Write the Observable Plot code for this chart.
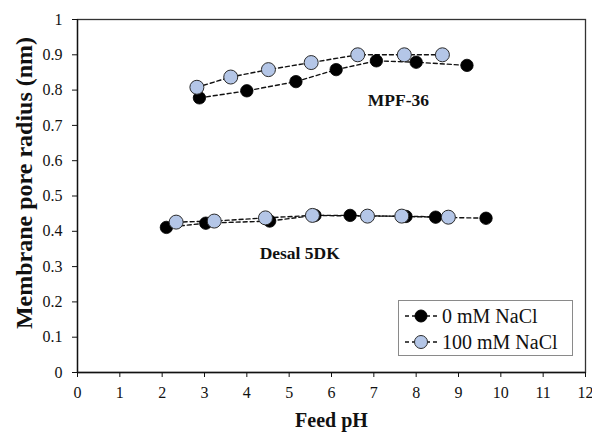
<!DOCTYPE html>
<html>
<head>
<meta charset="utf-8">
<script src="https://cdn.jsdelivr.net/npm/d3@7"></script>
<script src="https://cdn.jsdelivr.net/npm/@observablehq/plot@0.6"></script>
<style>
  html, body { margin: 0; padding: 0; background: #fff; }
  #wrap { position: relative; width: 592px; height: 433px; font-family: "Liberation Serif", Tinos, "Times New Roman", Times, "DejaVu Serif", serif; }
  #wrap svg { overflow: visible; }
  #wrap svg text { font-family: "Liberation Serif", Tinos, "Times New Roman", Times, "DejaVu Serif", serif !important; }
  #legend { position: absolute; left: 398px; top: 300px; width: 175px; height: 56px; border: 1px solid #8a8a8a; background: #fff; box-sizing: border-box; }
  .row { position: absolute; left: 0; height: 26px; display: flex; align-items: center; font-size: 20px; color: #111; }
  .row svg { margin-left: 5px; margin-right: 4px; }
</style>
</head>
<body>
<div id="wrap"></div>
<script>
// ---- data ----
const xTicks = [0,1,2,3,4,5,6,7,8,9,10,11,12];
const yTicks = [0,0.1,0.2,0.3,0.4,0.5,0.6,0.7,0.8,0.9,1];
const seriesNames = ["0 mM NaCl", "100 mM NaCl"];
const membranes = ["MPF-36", "Desal 5DK"];

const mpf_pH_0   = [2.88, 4.0, 5.16, 6.11, 7.06, 8.0, 9.2];
const mpf_r_0    = [0.778, 0.798, 0.824, 0.858, 0.883, 0.879, 0.870];
const mpf_pH_100 = [2.82, 3.62, 4.51, 5.52, 6.62, 7.72, 8.62];
const mpf_r_100  = [0.808, 0.837, 0.858, 0.878, 0.900, 0.900, 0.900];

const desal_pH_0   = [2.1, 3.03, 4.54, 5.61, 6.44, 7.76, 8.46, 9.65];
const desal_r_0    = [0.411, 0.423, 0.429, 0.445, 0.445, 0.442, 0.440, 0.437];
const desal_pH_100 = [2.33, 3.23, 4.44, 5.55, 6.85, 7.66, 8.76];
const desal_r_100  = [0.426, 0.429, 0.438, 0.445, 0.443, 0.443, 0.440];

const labelText = ["MPF-36", "Desal 5DK"];
const labelPH   = [7.58, 5.25];
const labelR    = [0.77, 0.337];

// ---- build table ----
function rows(membrane, series, xs, ys) {
  return xs.map((x, i) => ({membrane, series, key: membrane + "|" + series, pH: x, r: ys[i]}));
}
const data = [
  ...rows(membranes[0], seriesNames[0], mpf_pH_0, mpf_r_0),
  ...rows(membranes[0], seriesNames[1], mpf_pH_100, mpf_r_100),
  ...rows(membranes[1], seriesNames[0], desal_pH_0, desal_r_0),
  ...rows(membranes[1], seriesNames[1], desal_pH_100, desal_r_100)
];
const d0 = data.filter(d => d.series === seriesNames[0]);
const d100 = data.filter(d => d.series === seriesNames[1]);
const labels = labelText.map((t, i) => ({t, pH: labelPH[i], r: labelR[i]}));

const blueFill = "#b4c6e7";
const serif = "Liberation Serif, Tinos, Times New Roman, Times, DejaVu Serif, serif";

const chart = Plot.plot({
  width: 592,
  height: 433,
  marginLeft: 77,
  marginRight: 7,
  marginTop: 19,
  marginBottom: 61,
  style: { fontFamily: serif, fontSize: "16px", color: "#111", background: "#fff", overflow: "visible" },
  x: { domain: [0, 12] },
  y: { domain: [0, 1] },
  marks: [
    Plot.frame({ stroke: "#333", strokeWidth: 1.3 }),
    Plot.axisX({ ticks: xTicks, tickSize: 5, tickPadding: 9, fontSize: 16, fontFamily: serif, label: null, tickFormat: d => String(d) }),
    Plot.axisY({ ticks: yTicks, tickSize: 5, tickPadding: 10, fontSize: 16, fontFamily: serif, label: null, tickFormat: d => String(+d.toFixed(1)) }),
    Plot.ruleX([0], { stroke: "#111", strokeWidth: 1.3 }),
    Plot.ruleY([0], { stroke: "#111", strokeWidth: 1.3 }),
    Plot.line(data, { x: "pH", y: "r", z: "key", stroke: "#111", strokeWidth: 1.4, strokeDasharray: "4,3" }),
    Plot.dot(d0, { x: "pH", y: "r", r: 6.2, fill: "#000", stroke: "#000", strokeWidth: 0.8 }),
    Plot.dot(d100, { x: "pH", y: "r", r: 7, fill: blueFill, stroke: "#2b2b2b", strokeWidth: 1 }),
    Plot.text(labels, { x: "pH", y: "r", text: "t", fontSize: 17.5, fontWeight: "bold", fontFamily: serif, fill: "#111" }),
    Plot.text(["Feed pH"], { frameAnchor: "bottom", dy: 54, textAnchor: "middle", fontSize: 20, fontWeight: "bold", fontFamily: serif, fill: "#111" }),
    Plot.text(["Membrane pore radius (nm)"], { frameAnchor: "left", textAnchor: "middle", dx: -53, dy: -13, rotate: -90, fontSize: 24, fontWeight: "bold", fontFamily: serif, fill: "#111" })
  ]
});

const wrap = document.getElementById("wrap");
wrap.appendChild(chart);

// legend
const legend = document.createElement("div");
legend.id = "legend";
const sym = (fill, stroke, r) =>
  `<svg width="34" height="20" viewBox="0 0 34 20">
     <line x1="1" y1="10" x2="33" y2="10" stroke="#111" stroke-width="1.4" stroke-dasharray="4,3"/>
     <circle cx="17" cy="10" r="${r}" fill="${fill}" stroke="${stroke}" stroke-width="1"/>
   </svg>`;
legend.innerHTML =
  `<div class="row" style="top:2px">${sym("#000", "#000", 6)}<span>${seriesNames[0]}</span></div>` +
  `<div class="row" style="top:28px">${sym(blueFill, "#2b2b2b", 6.5)}<span>${seriesNames[1]}</span></div>`;
wrap.appendChild(legend);
</script>
</body>
</html>
